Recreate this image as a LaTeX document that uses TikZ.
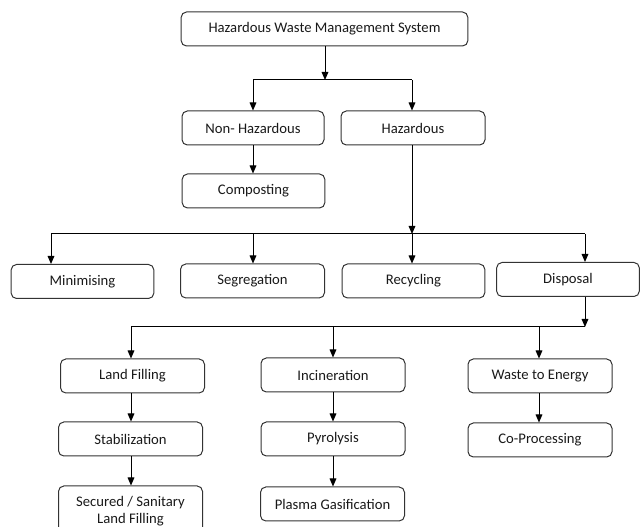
\documentclass[tikz,border=0pt]{standalone}
\usepackage{fontspec}
\setmainfont{Carlito}
\usetikzlibrary{arrows.meta}
\begin{document}
\begin{tikzpicture}[x=0.75pt,y=-0.75pt,
  box/.style={draw=black!80,line width=0.75pt,rounded corners=4pt,minimum width=108pt,minimum height=25.5pt,inner sep=0pt,align=center,font=\fontsize{11}{13}\selectfont,text=black!90},
  conn/.style={draw=black,line width=0.75pt},
  arr/.style={conn,-{Triangle[width=5pt,length=6pt]}}]
\useasboundingbox (0,0) rectangle (640,527);
\node[box,minimum width=215pt] (top) at (324.5,29) {Hazardous Waste Management System};
\node[box,minimum width=106.5pt] (nonhaz) at (253,128) {Non- Hazardous};
\node[box] (haz) at (413,128) {Hazardous};
\node[box,minimum width=107pt] (compost) at (253.5,191) {Composting};
\node[box,minimum width=107pt] (minim) at (82.5,281.5) {Minimising};
\node[box] (segreg) at (252.5,281) {Segregation};
\node[box,minimum width=107pt] (recyc) at (413.5,281) {Recycling};
\node[box,minimum width=107pt] (disp) at (568,279.5) {Disposal};
\node[box] (landfill) at (132.5,376) {Land Filling};
\node[box] (stab) at (130.5,439) {Stabilization};
\node[box,minimum height=37.5pt] (secured) at (130.5,511) {Secured / Sanitary\\Land Filling};
\node[box] (incin) at (333,375) {Incineration};
\node[box] (pyro) at (333,439) {Pyrolysis};
\node[box] (plasma) at (332.5,504) {Plasma Gasification};
\node[box] (wte) at (540,376) {Waste to Energy};
\node[box] (copro) at (540,440) {Co-Processing};
% level 1
\coordinate (j1) at (325,80);
\coordinate (j1l) at (253,80);
\coordinate (j1r) at (412,80);
\draw[arr] (top.south -| j1) -- (j1);
\draw[conn] (j1l) -- (j1r);
\draw[arr] (j1l) -- (nonhaz.north -| j1l);
\draw[arr] (j1r) -- (haz.north -| j1r);
\draw[arr] (nonhaz.south -| j1l) -- (compost.north -| j1l);
% level 2
\coordinate (j2) at (412,234);
\coordinate (j2a) at (51,234);
\coordinate (j2b) at (253,234);
\coordinate (j2d) at (585,234);
\draw[arr] (haz.south -| j2) -- (j2);
\draw[conn] (j2a) -- (j2d);
\draw[arr] (j2a) -- (minim.north -| j2a);
\draw[arr] (j2b) -- (segreg.north -| j2b);
\draw[arr] (j2) -- (recyc.north -| j2);
\draw[arr] (j2d) -- (disp.north -| j2d);
% level 3
\coordinate (j3) at (585,327);
\coordinate (j3a) at (131,327);
\coordinate (j3b) at (333,327);
\coordinate (j3c) at (539,327);
\draw[arr] (disp.south -| j3) -- (j3);
\draw[conn] (j3a) -- (j3);
\draw[arr] (j3a) -- (landfill.north -| j3a);
\draw[arr] (j3b) -- (incin.north -| j3b);
\draw[arr] (j3c) -- (wte.north -| j3c);
\draw[arr] (landfill.south -| j3a) -- (stab.north -| j3a);
\draw[arr] (stab.south -| j3a) -- (secured.north -| j3a);
\draw[arr] (incin.south -| j3b) -- (pyro.north -| j3b);
\draw[arr] (pyro.south -| j3b) -- (plasma.north -| j3b);
\draw[arr] (wte.south -| j3c) -- (copro.north -| j3c);
\end{tikzpicture}
\end{document}
